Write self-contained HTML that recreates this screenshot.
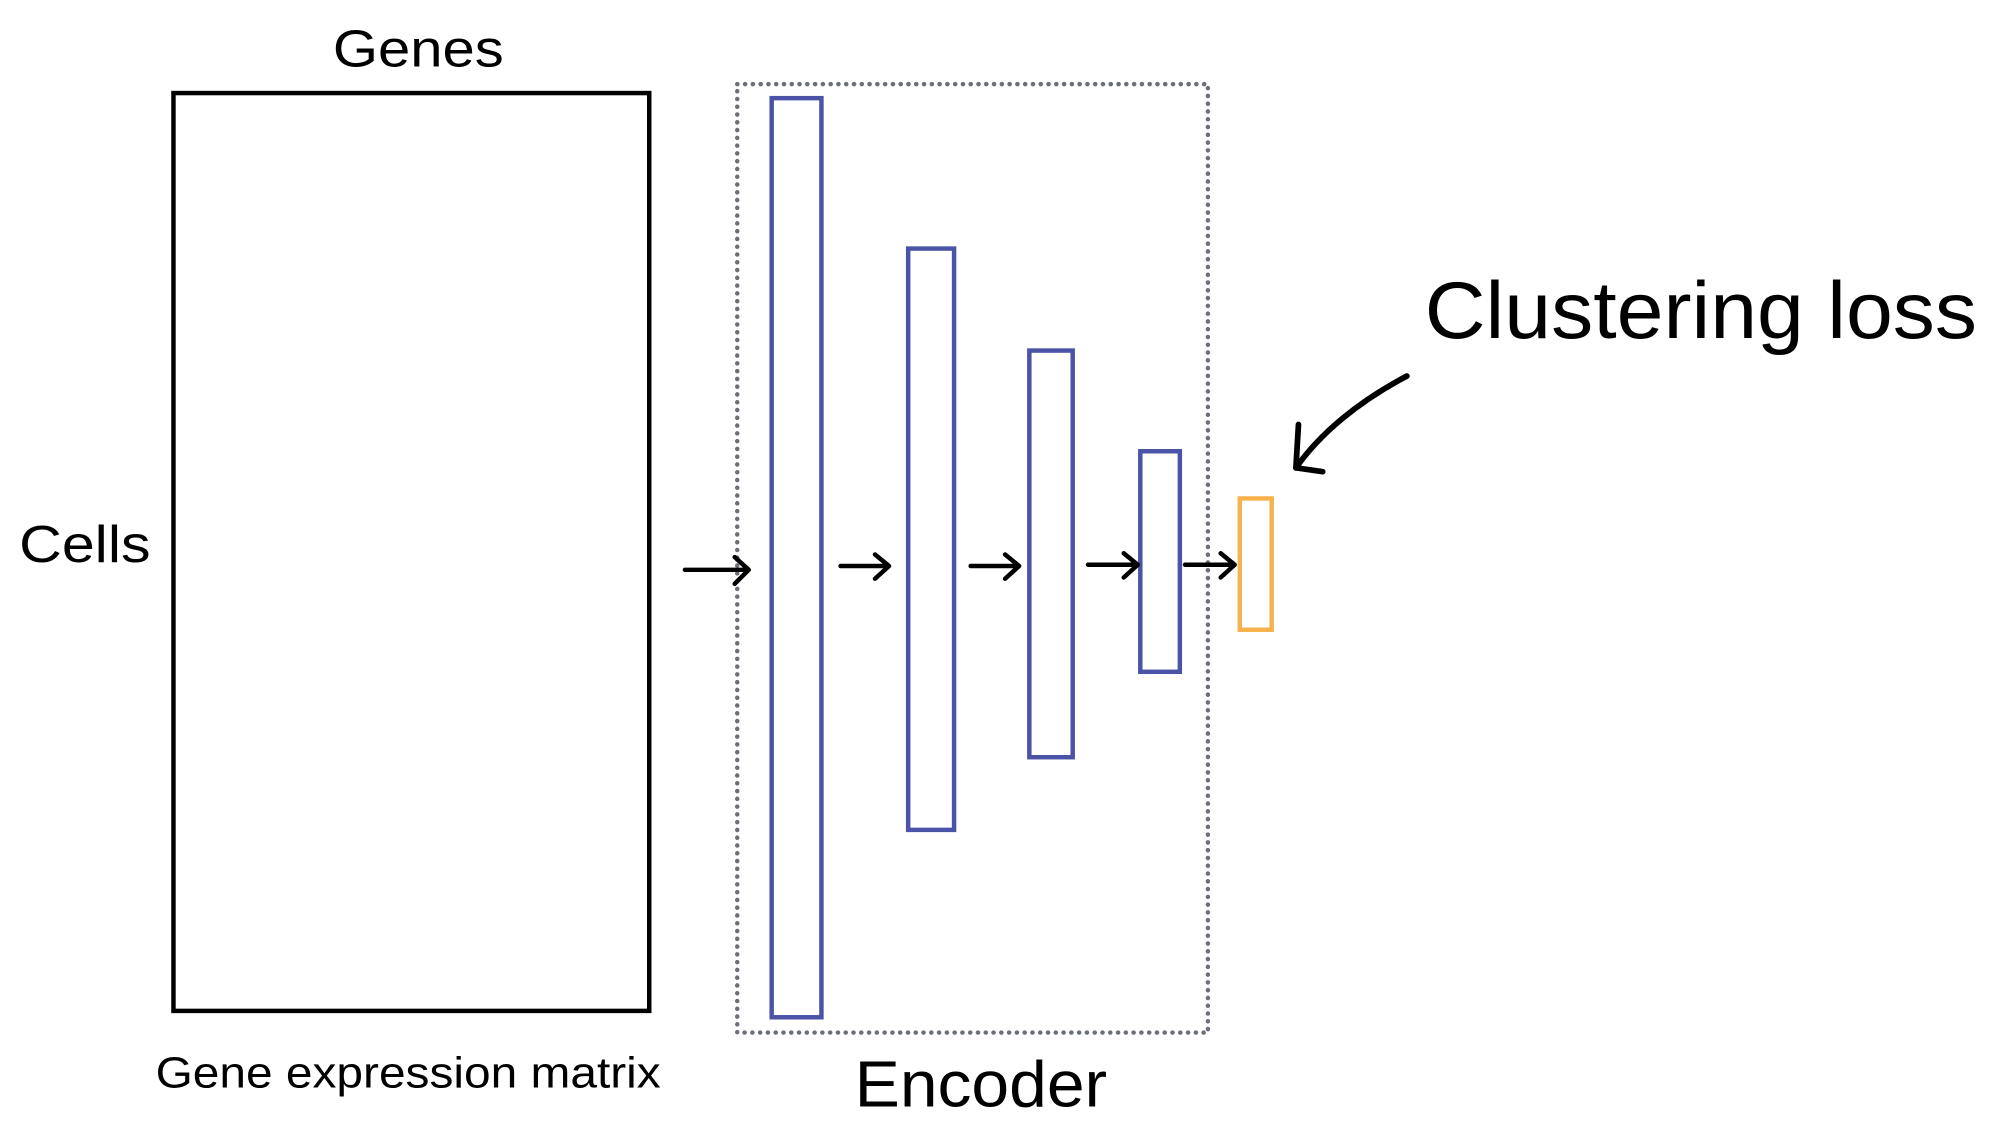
<!DOCTYPE html>
<html><head><style>html,body{margin:0;padding:0;background:#fff;}svg{display:block}</style></head>
<body>
<svg width="2000" height="1132" viewBox="0 0 1568 888" preserveAspectRatio="none" xmlns="http://www.w3.org/2000/svg" font-family="Liberation Sans, sans-serif">
<rect x="136" y="73" width="373" height="720" fill="none" stroke="#000" stroke-width="3.5"/>
<text x="261" y="52" font-size="41" textLength="134" lengthAdjust="spacingAndGlyphs">Genes</text>
<text x="15" y="441" font-size="41" textLength="103" lengthAdjust="spacingAndGlyphs">Cells</text>
<text x="122" y="853" font-size="34" textLength="396" lengthAdjust="spacingAndGlyphs">Gene expression matrix</text>
<rect x="578" y="66" width="369" height="744" fill="none" stroke="#6b6f78" stroke-width="3.5" stroke-dasharray="0.1 6" stroke-linecap="round"/>
<g fill="none" stroke="#4a53a6" stroke-width="3.5">
<rect x="605" y="77" width="39" height="721"/>
<rect x="712" y="195" width="36" height="456"/>
<rect x="807" y="275" width="34" height="319"/>
<rect x="894" y="354" width="31" height="173"/>
</g>
<rect x="972" y="391" width="25" height="103" fill="none" stroke="#f6b24c" stroke-width="3.5"/>
<g fill="none" stroke="#000" stroke-width="3.5" stroke-linecap="round" stroke-linejoin="round">
<path d="M537 447H586M576 437L587 447L576 458"/>
<path d="M659 444H696M686 435L697 444L686 454"/>
<path d="M761 444H798M788 435L799 444L788 454"/>
<path d="M853 443H891M881 434L892 443L881 453"/>
<path d="M929 443H967M957 434L968 443L957 453"/>
<path d="M1103 295C1065 315 1035 340 1016 367" stroke-width="4.5"/>
<path d="M1018 333L1016 367L1037 370" stroke-width="4.5"/>
</g>
<text x="670" y="868" font-size="51" textLength="198" lengthAdjust="spacingAndGlyphs">Encoder</text>
<text x="1117" y="265" font-size="63" textLength="433" lengthAdjust="spacingAndGlyphs">Clustering loss</text>
</svg>
</body></html>
